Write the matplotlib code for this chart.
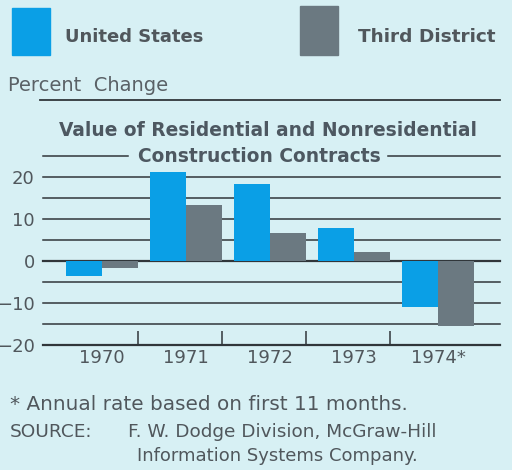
import matplotlib.pyplot as plt
from matplotlib.lines import Line2D
from matplotlib.patches import Rectangle

# data
years = ['1970', '1971', '1972', '1973', '1974*']
us = [-3.5, 21.3, 18.3, 7.8, -11.0]
third = [-1.6, 13.4, 6.7, 2.2, -15.4]
yticks = [-20, -10, 0, 10, 20]

bg = '#d7f0f4'
blue = '#0a9fe6'
grey = '#6b7981'
txt = '#50575c'
line = '#30363a'

fig = plt.figure(figsize=(5.12, 4.70), dpi=100, facecolor=bg)
ax = fig.add_axes([0.084, 0.266, 0.893, 0.402])
ax.set_facecolor(bg)

x = list(range(len(years)))
w = 0.43
ax.bar([i - w / 2 for i in x], us, width=w, color=blue, zorder=3)
ax.bar([i + w / 2 for i in x], third, width=w, color=grey, zorder=3)

# horizontal rules
for v in range(-20, 25, 5):
    lw = 1.6 if v in (0, -20) else 1.1
    ax.axhline(v, color=line, lw=lw, zorder=1, clip_on=False)
ax.axhline(25, xmin=0, xmax=0.186, color=line, lw=1.1, clip_on=False)
ax.axhline(25, xmin=0.755, xmax=1, color=line, lw=1.1, clip_on=False)

# small separators between years
ax.vlines([i + 0.43 for i in x[:-1]], -20, -16.6, color=line, lw=1.1, zorder=2)

ax.set_xlim(-0.70, 4.74)
ax.set_ylim(-20, 25)
ax.set_yticks(yticks)
ax.set_xticks(x)
ax.set_xticklabels(years)
ax.tick_params(length=0, labelsize=13, colors=txt)
ax.tick_params(axis='y', pad=6)
ax.tick_params(axis='x', pad=3)
for s in ax.spines.values():
    s.set_visible(False)

# chart title, second line sits in the gap of the top rule
ax.text(0.493, 31, 'Value of Residential and Nonresidential', ha='center', va='center',
        fontsize=13.4, fontweight='bold', color='#4d5861',
        transform=ax.get_yaxis_transform(), clip_on=False)
ax.text(0.473, 25, 'Construction Contracts', ha='center', va='center',
        fontsize=13.4, fontweight='bold', color='#4d5861',
        transform=ax.get_yaxis_transform(), clip_on=False)

# legend drawn as figure patches and text
fig.add_artist(Rectangle((12 / 512, 1 - 55 / 470), 38 / 512, 47 / 470,
                         transform=fig.transFigure, color=blue))
fig.add_artist(Rectangle((300 / 512, 1 - 55 / 470), 38 / 512, 49 / 470,
                         transform=fig.transFigure, color=grey))
fig.text(65 / 512, 1 - 37 / 470, 'United States', fontsize=13, fontweight='bold',
         color=txt, va='center')
fig.text(358 / 512, 1 - 37 / 470, 'Third District', fontsize=13.3, fontweight='bold',
         color=txt, va='center')
fig.text(8 / 512, 1 - 86 / 470, 'Percent  Change', fontsize=14, color='#5a6166', va='center')
fig.add_artist(Line2D([40 / 512, 500 / 512], [1 - 100 / 470, 1 - 100 / 470],
                      transform=fig.transFigure, color=line, lw=1.3))

fig.text(10 / 512, 1 - 405 / 470, '* Annual rate based on first 11 months.',
         fontsize=14.4, color=txt, va='center')
fig.text(10 / 512, 1 - 432 / 470, 'SOURCE:', fontsize=13.3, color=txt, va='center')
fig.text(128 / 512, 1 - 432 / 470, 'F. W. Dodge Division, McGraw-Hill',
         fontsize=13.3, color=txt, va='center')
fig.text(137 / 512, 1 - 456 / 470, 'Information Systems Company.',
         fontsize=13, color=txt, va='center')

fig.savefig('out.png', dpi=100, facecolor=bg)
